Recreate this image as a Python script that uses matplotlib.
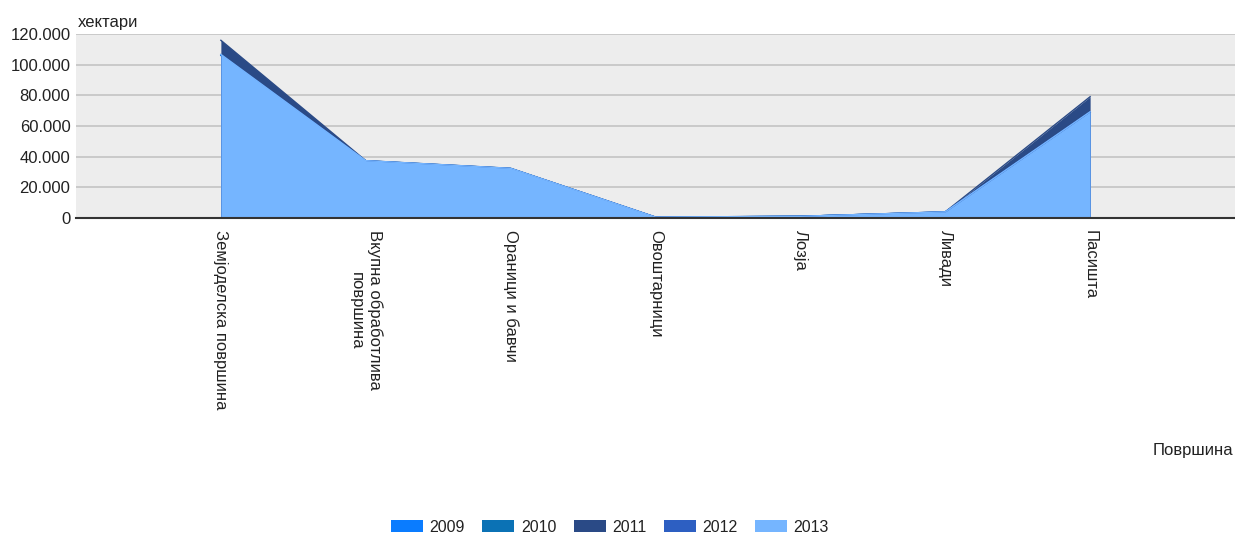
import matplotlib
matplotlib.use('Agg')
import matplotlib.pyplot as plt
from matplotlib.ticker import FuncFormatter
from matplotlib.patches import Patch

plt.rcParams['font.family'] = ['Liberation Sans', 'DejaVu Sans']

# категории и вредности (хектари)
kategorii = ['Земјоделска површина', 'Вкупна обработлива\nповршина', 'Ораници и бавчи',
             'Овоштарници', 'Лозја', 'Ливади', 'Пасишта']
godini = ['2009', '2010', '2011', '2012', '2013']
v2009 = [106000, 37200, 32200, 500, 1100, 3900, 69000]
v2010 = [106200, 37300, 32300, 500, 1100, 3900, 69100]
v2011 = [115900, 37400, 32400, 600, 1100, 4000, 79100]
v2012 = [106500, 37300, 32300, 600, 1100, 4000, 69200]
v2013 = [106700, 37400, 32400, 600, 1100, 4000, 69300]
boi = ['#0a7cff', '#0b72b5', '#2a4a86', '#2d5fc2', '#75b5ff']

fig = plt.figure(figsize=(12.35, 5.36), dpi=100)
ax = fig.add_axes([76 / 1235, 1 - 218 / 536, 1 - 76 / 1235, 184 / 536])
ax.set_facecolor('#ededed')

x = list(range(len(kategorii)))
for vals, c in zip([v2009, v2010, v2011, v2012, v2013], boi):
    ax.fill_between(x, 0, vals, color=c, lw=0, zorder=3)
    ax.plot(x, vals, color=c, lw=1, zorder=3)

ax.set_xlim(-1, 7)
ax.set_ylim(0, 120000)
ax.set_yticks(range(0, 120001, 20000))
ax.yaxis.set_major_formatter(FuncFormatter(lambda v, p: f"{int(v):,}".replace(",", ".")))
ax.grid(axis='y', color='#c4c4c4', lw=1.2, zorder=1)
ax.set_xticks(x)
ax.set_xticklabels(kategorii, rotation=270, va='top', ha='center', rotation_mode='default')
ax.tick_params(axis='both', length=0, labelsize=12, colors='#222222')
ax.tick_params(axis='x', pad=9)
ax.tick_params(axis='y', pad=4)
for s in ['left', 'right', 'top']:
    ax.spines[s].set_visible(False)
ax.spines['bottom'].set_color('#333333')
ax.spines['bottom'].set_linewidth(1.5)
ax.spines['bottom'].set_zorder(5)

fig.text(78 / 1235, 1 - 22 / 536, 'хектари', fontsize=12, color='#222222', va='center', ha='left')
fig.text(1233 / 1235, 1 - 450 / 536, 'Површина', fontsize=12, color='#222222', va='center', ha='right')

handles = [Patch(facecolor=c, edgecolor='none', label=g) for c, g in zip(boi, godini)]
fig.legend(handles=handles, loc='center', bbox_to_anchor=(610 / 1235, 1 - 527 / 536), ncol=5,
           frameon=False, fontsize=11.5, handlelength=2.0, handleheight=0.8, handletextpad=0.4,
           columnspacing=1.1, labelcolor='#222222')

fig.savefig('out.png', dpi=100)
